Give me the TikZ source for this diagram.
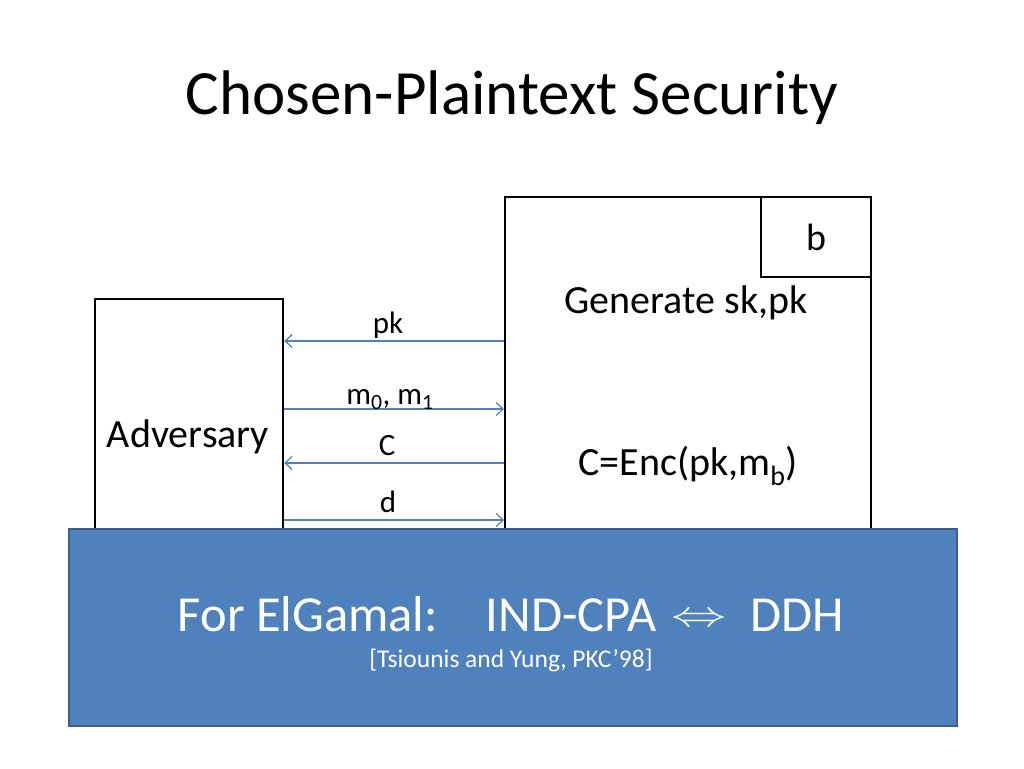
\documentclass[tikz,border=0pt]{standalone}
\usepackage{fontspec}
\setmainfont{Carlito}
\usetikzlibrary{arrows.meta}
\definecolor{slideblue}{HTML}{4F81BD}
\definecolor{slideedge}{HTML}{3A5F8B}
\tikzset{
  party/.style={draw=black,line width=2.2pt,fill=white,inner sep=0pt},
  partytext/.style={font=\fontsize{40}{48}\selectfont},
  msg/.style={draw=slideblue,line width=1.2pt,arrows={-Straight Barb[length=7pt,width=13pt]}},
  msglabel/.style={font=\fontsize{31}{37}\selectfont,anchor=base,inner sep=0pt,yshift=8pt}
}
\begin{document}
\begin{tikzpicture}[x=1pt,y=-1pt]
\useasboundingbox[fill=white] (0,0) rectangle (1024,768);
\node[font=\fontsize{63}{75}\selectfont] (title) at (512,98) {Chosen-Plaintext Security};
% the two parties
\node[party,minimum width=188pt,minimum height=245pt,anchor=north west] (adv) at (94,298) {};
\node[party,minimum width=366pt,minimum height=345pt,anchor=north west] (chal) at (504,196) {};
\node[party,minimum width=110pt,minimum height=80pt,anchor=north east,font=\fontsize{38}{45}\selectfont] (bit) at (chal.north east) {b};
\node[partytext] (advtext) at (188,437) {Adversary};
\node[partytext] (gen) at (686,303) {Generate sk,pk};
\node[partytext] (enc) at (688,466) {C=Enc(pk,m\textsubscript{b})};
% messages
\coordinate (ypk) at (0,341);
\coordinate (ym) at (0,409);
\coordinate (yc) at (0,463);
\coordinate (yd) at (0,520);
\draw[msg] (chal.west |- ypk) -- (adv.east |- ypk) node[msglabel,midway,xshift=-6pt] {pk};
\draw[msg] (adv.east |- ym) -- (chal.west |- ym) node[msglabel,midway,yshift=-3pt,xshift=-4pt] {m\textsubscript{0}, m\textsubscript{1}};
\draw[msg] (chal.west |- yc) -- (adv.east |- yc) node[msglabel,midway,xshift=-7pt] {C};
\draw[msg] (adv.east |- yd) -- (chal.west |- yd) node[msglabel,midway,xshift=-6pt] {d};
% result
\node[fill=slideblue,draw=slideedge,line width=2pt,minimum width=888pt,minimum height=197pt,anchor=north west] (result) at (68,528) {};
\node[text=white,font=\fontsize{50.5}{60}\selectfont] (claim) at (511,614) {For ElGamal:\hspace{48pt}IND-CPA\hspace{15pt}\raisebox{5pt}{\scalebox{5.5}[3.6]{\fontsize{10}{12}\selectfont$\Leftrightarrow$}}\hspace{24pt}DDH};
\node[text=white,font=\fontsize{25.5}{30}\selectfont] (cite) at (511,660) {[Tsiounis and Yung, PKC’98]};
\end{tikzpicture}
\end{document}
